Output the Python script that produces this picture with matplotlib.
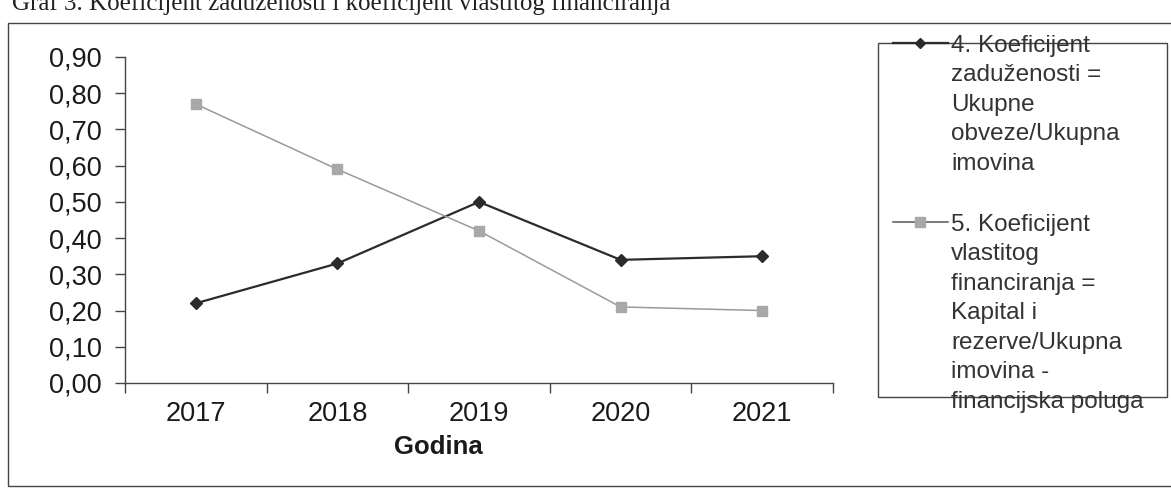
import numpy as np
import matplotlib.pyplot as plt
from matplotlib.lines import Line2D
from matplotlib.patches import Rectangle

years = ['2017', '2018', '2019', '2020', '2021']
zaduzenost = [0.22, 0.33, 0.50, 0.34, 0.35]
vlastito_fin = [0.77, 0.59, 0.42, 0.21, 0.20]

label_zad = '4. Koeficijent\nzaduženosti =\nUkupne\nobveze/Ukupna\nimovina'
label_vl = ('5. Koeficijent\nvlastitog\nfinanciranja =\nKapital i\n'
            'rezerve/Ukupna\nimovina -\nfinancijska poluga')
title = 'Graf 3. Koeficijent zaduženosti i koeficijent vlastitog financiranja'

W, H = 1171, 495
DARK = '#2b2b2b'
LIGHT = '#9a9a9a'


def fx(x):
    return x / W


def fy(y):
    return 1 - y / H


def main():
    plt.rcParams['font.family'] = ['Liberation Sans', 'DejaVu Sans']
    fig = plt.figure(figsize=(W / 100, H / 100), dpi=100)

    # title of the figure, its upper half runs off the top edge
    fig.text(fx(670), fy(10), title, ha='right', va='baseline',
             fontsize=18, family=['Liberation Serif', 'DejaVu Serif'], color='#222222')

    # outer chart frame
    fig.patches.append(Rectangle((fx(8), fy(486)), fx(1180) - fx(8), fy(23) - fy(486),
                                 transform=fig.transFigure, fill=False,
                                 edgecolor='#444444', linewidth=1.0))

    ax = fig.add_axes([fx(125), fy(383), fx(833) - fx(125), fy(57) - fy(383)])
    x = np.arange(len(years))
    ax.plot(x, zaduzenost, color=DARK, linewidth=1.6, marker='D', markersize=6,
            markerfacecolor=DARK, markeredgecolor=DARK)
    ax.plot(x, vlastito_fin, color=LIGHT, linewidth=1.1, marker='s', markersize=7,
            markerfacecolor='#a8a8a8', markeredgecolor='#a8a8a8')

    ax.set_xlim(-0.5, len(years) - 0.5)
    ax.set_ylim(0, 0.9)
    yt = np.round(np.arange(0, 0.91, 0.1), 2)
    ax.set_yticks(yt)
    ax.set_yticklabels([f'{v:.2f}'.replace('.', ',') for v in yt])
    ax.set_xticks(x)
    ax.set_xticklabels(years)
    ax.set_xticks(np.arange(-0.5, len(years)), minor=True)
    ax.tick_params(axis='x', which='major', length=0, pad=13, labelsize=19.5, labelcolor='#1a1a1a')
    ax.tick_params(axis='x', which='minor', length=7, width=1, color='#444444')
    ax.tick_params(axis='y', length=7, width=1, color='#444444', pad=10,
                   labelsize=19.5, labelcolor='#1a1a1a')
    for side in ['top', 'right']:
        ax.spines[side].set_visible(False)
    for side in ['left', 'bottom']:
        ax.spines[side].set_color('#444444')
        ax.spines[side].set_linewidth(1.0)

    fig.text(fx(438), fy(447), 'Godina', ha='center', va='center',
             fontsize=18.5, fontweight='bold', color='#1a1a1a')

    # legend drawn by hand so the labels can run past the box
    fig.patches.append(Rectangle((fx(878), fy(397)), fx(1167) - fx(878), fy(43) - fy(397),
                                 transform=fig.transFigure, fill=False,
                                 edgecolor='#444444', linewidth=1.0))
    fig.lines.append(Line2D([fx(893), fx(948)], [fy(43), fy(43)], transform=fig.transFigure,
                            color=DARK, linewidth=1.6))
    fig.lines.append(Line2D([fx(920)], [fy(43)], transform=fig.transFigure, marker='D',
                            markersize=5, color=DARK))
    fig.lines.append(Line2D([fx(893), fx(948)], [fy(222), fy(222)], transform=fig.transFigure,
                            color='#555555', linewidth=1.1))
    fig.lines.append(Line2D([fx(920)], [fy(222)], transform=fig.transFigure, marker='s',
                            markersize=7, color='#a8a8a8'))
    fig.text(fx(951), fy(35), label_zad, ha='left', va='top', fontsize=17.5,
             linespacing=1.44, color='#333333')
    fig.text(fx(951), fy(214), label_vl, ha='left', va='top', fontsize=17.5,
             linespacing=1.44, color='#333333')

    fig.savefig('out.png', dpi=100)


if __name__ == "__main__":
    main()
